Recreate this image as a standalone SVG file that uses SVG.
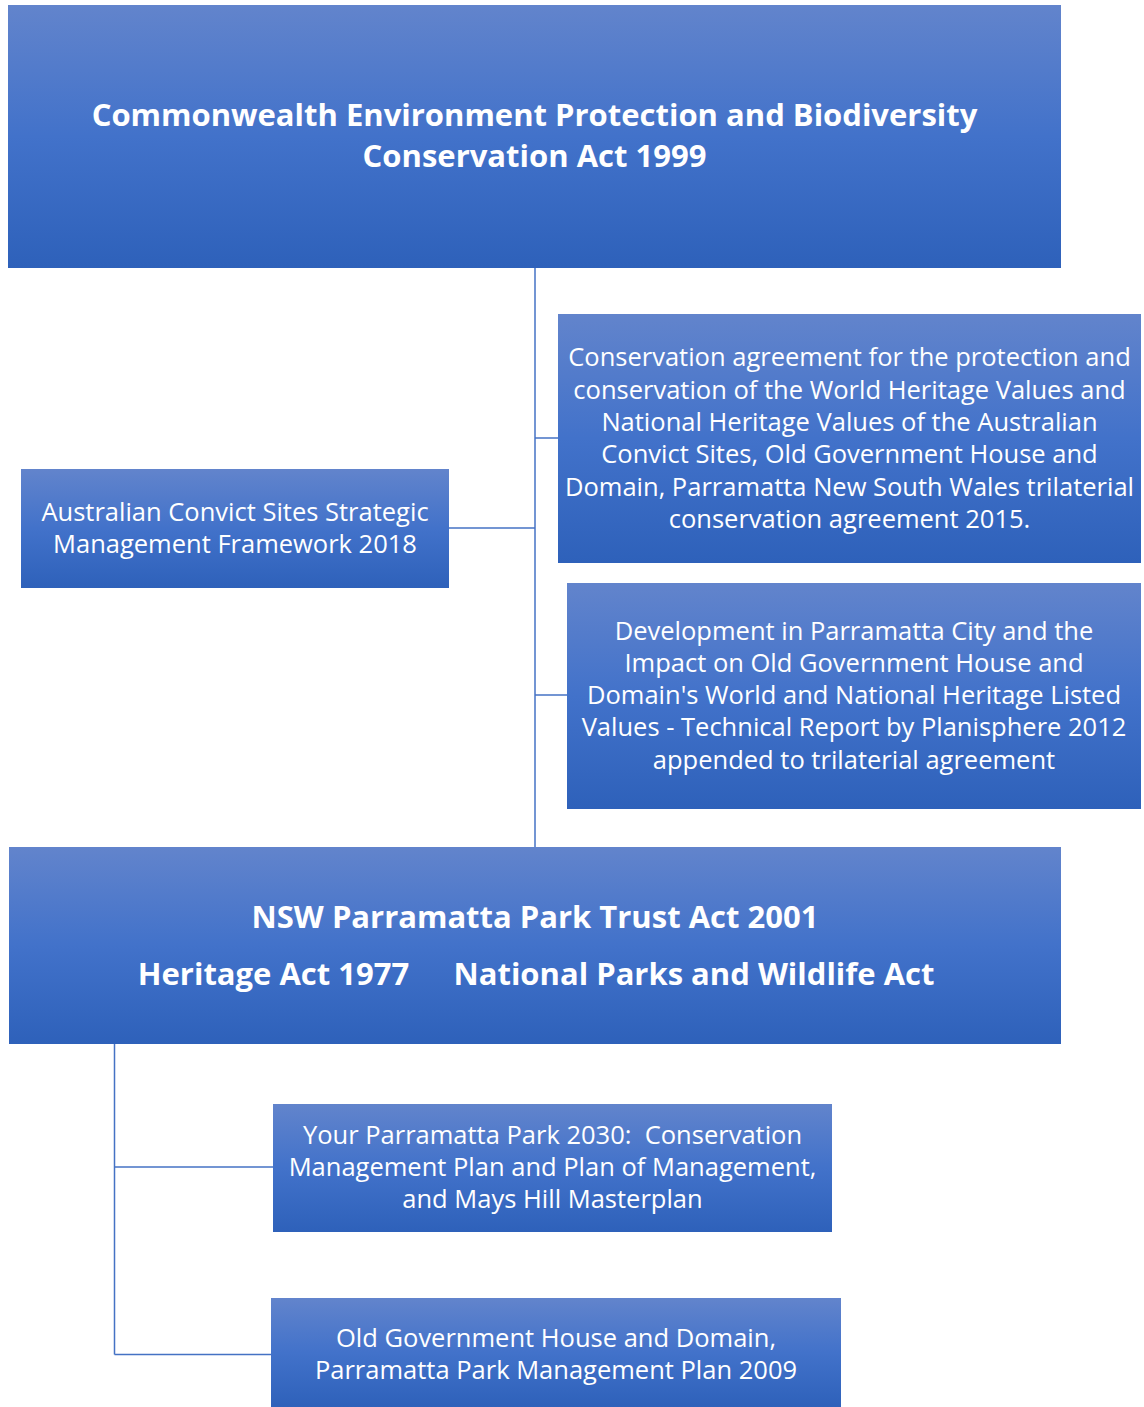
<svg xmlns="http://www.w3.org/2000/svg" width="1144" height="1407" viewBox="0 0 1144 1407">
<defs>
<linearGradient id="g" x1="0" y1="0" x2="0" y2="1">
<stop offset="0" stop-color="#6284CC"/>
<stop offset="0.5" stop-color="#4272CA"/>
<stop offset="1" stop-color="#2E61BA"/>
</linearGradient>
<style>
.box{fill:url(#g);}
.t{font-family:"Open Sans","Liberation Sans",sans-serif;font-size:25.5px;fill:#ffffff;text-anchor:middle;white-space:pre;}
.h{font-family:"Open Sans","Liberation Sans",sans-serif;font-size:31px;font-weight:bold;fill:#ffffff;text-anchor:middle;}
.c{stroke:#4472C4;stroke-width:1.5;fill:none;}
</style>
</defs>
<rect width="1144" height="1407" fill="#ffffff"/>
<g id="connectors">
<path class="c" d="M535,268 V847"/>
<path class="c" d="M535,438 H558"/>
<path class="c" d="M449,528 H535"/>
<path class="c" d="M535,695 H567"/>
<path class="c" d="M114.5,1044 V1354.5"/>
<path class="c" d="M114.5,1167 H273"/>
<path class="c" d="M114.5,1354.5 H271"/>
</g>
<g id="epbc">
<rect class="box" x="8" y="5" width="1053" height="263"/>
<text class="h" x="534.5" y="126">Commonwealth Environment Protection and Biodiversity</text>
<text class="h" x="534.5" y="167">Conservation Act 1999</text>
</g>
<g id="agreement">
<rect class="box" x="558" y="314" width="583" height="249"/>
<text class="t" x="849.5" y="366">Conservation agreement for the protection and</text>
<text class="t" x="849.5" y="398.5">conservation of the World Heritage Values and</text>
<text class="t" x="849.5" y="431">National Heritage Values of the Australian</text>
<text class="t" x="849.5" y="463">Convict Sites, Old Government House and</text>
<text class="t" x="849.5" y="495.5">Domain, Parramatta New South Wales trilaterial</text>
<text class="t" x="849.5" y="528">conservation agreement 2015.</text>
</g>
<g id="framework">
<rect class="box" x="21" y="469" width="428" height="119"/>
<text class="t" x="235" y="521">Australian Convict Sites Strategic</text>
<text class="t" x="235" y="553">Management Framework 2018</text>
</g>
<g id="planisphere">
<rect class="box" x="567" y="583" width="574" height="226"/>
<text class="t" x="854" y="640">Development in Parramatta City and the</text>
<text class="t" x="854" y="672">Impact on Old Government House and</text>
<text class="t" x="854" y="704">Domain's World and National Heritage Listed</text>
<text class="t" x="854" y="736">Values - Technical Report by Planisphere 2012</text>
<text class="t" x="854" y="769">appended to trilaterial agreement</text>
</g>
<g id="nsw">
<rect class="box" x="9" y="847" width="1052" height="197"/>
<text class="h" x="535" y="928">NSW Parramatta Park Trust Act 2001</text>
<text class="h" x="273.5" y="985">Heritage Act 1977</text>
<text class="h" x="694" y="985">National Parks and Wildlife Act</text>
</g>
<g id="yourpark">
<rect class="box" x="273" y="1104" width="559" height="128"/>
<text class="t" x="552.5" y="1144">Your Parramatta Park 2030:  Conservation</text>
<text class="t" x="552.5" y="1176">Management Plan and Plan of Management,</text>
<text class="t" x="552.5" y="1208">and Mays Hill Masterplan</text>
</g>
<g id="ogh">
<rect class="box" x="271" y="1298" width="570" height="109"/>
<text class="t" x="556" y="1347">Old Government House and Domain,</text>
<text class="t" x="556" y="1379">Parramatta Park Management Plan 2009</text>
</g>
</svg>
